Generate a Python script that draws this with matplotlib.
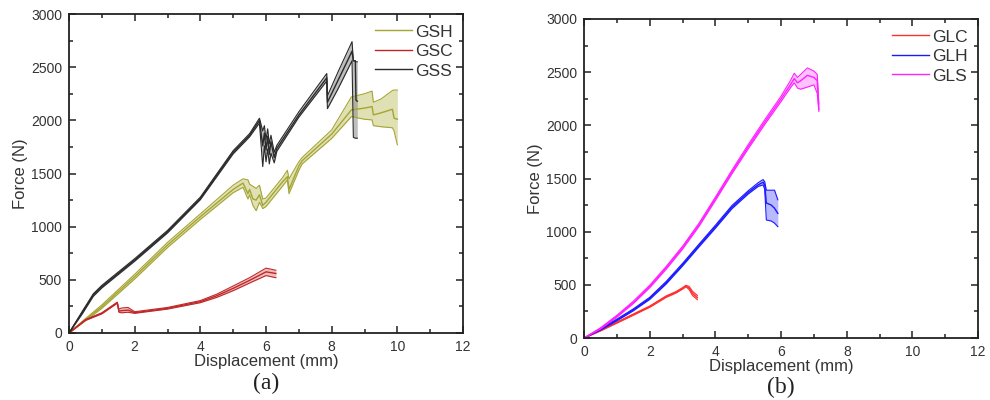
import matplotlib
matplotlib.use('Agg')
import matplotlib.pyplot as plt
from matplotlib.ticker import MultipleLocator

plt.rcParams['font.family'] = ['Liberation Sans', 'DejaVu Sans']

# ---- panel (a) ----
gsh_x  = [0, 0.5, 1, 2, 3, 4, 5, 5.3, 5.45, 5.5, 5.6, 5.7, 5.8, 5.9, 6.0, 6.5, 6.65, 6.7, 7.0, 7.1, 8.0, 8.6, 9.0, 9.23, 9.27, 9.5, 9.85, 9.9, 10.0]
gsh_m  = [0, 125, 248, 530, 828, 1094, 1350, 1410, 1310, 1350, 1260, 1250, 1300, 1200, 1230, 1420, 1470, 1350, 1570, 1620, 1870, 2098, 2115, 2129, 2051, 2070, 2104, 2020, 2010]
gsh_lo = [0, 115, 232, 508, 804, 1068, 1320, 1370, 1260, 1300, 1200, 1150, 1230, 1170, 1190, 1380, 1440, 1310, 1530, 1590, 1830, 2035, 2010, 2004, 1950, 1940, 1930, 1900, 1770]
gsh_hi = [0, 135, 264, 552, 852, 1120, 1390, 1450, 1440, 1400, 1380, 1360, 1390, 1260, 1270, 1460, 1530, 1450, 1610, 1650, 1910, 2220, 2250, 2275, 2170, 2200, 2280, 2285, 2285]

gsc_x  = [0, 0.5, 1, 1.47, 1.52, 1.6, 1.8, 2.0, 3.0, 4.0, 4.5, 5.0, 5.5, 6.0, 6.3]
gsc_m  = [0, 122, 185, 285, 205, 210, 215, 191, 232, 295, 350, 420, 495, 575, 560]
gsc_lo = [0, 118, 180, 280, 195, 190, 195, 185, 225, 285, 335, 398, 470, 540, 520]
gsc_hi = [0, 126, 190, 290, 225, 235, 240, 200, 240, 305, 365, 442, 520, 610, 590]

gss_x  = [0, 0.4, 0.74, 1, 2, 3, 4, 5, 5.5, 5.8, 5.9, 5.95, 6.0, 6.05, 6.1, 6.15, 6.25, 6.33, 7.0, 7.85, 7.87, 8.2, 8.62, 8.66, 8.72, 8.74, 8.78]
gss_m  = [0, 190, 357, 436, 687, 953, 1266, 1700, 1860, 2000, 1760, 1880, 1720, 1850, 1680, 1800, 1650, 1737, 2050, 2400, 2170, 2380, 2650, 2560, 2560, 2190, 2180]
gss_lo = [0, 178, 345, 424, 675, 941, 1254, 1685, 1845, 1975, 1565, 1760, 1610, 1730, 1590, 1690, 1600, 1710, 2030, 2370, 2110, 2300, 2560, 1840, 1832, 1832, 1832]
gss_hi = [0, 202, 369, 448, 699, 965, 1278, 1715, 1875, 2020, 1900, 1950, 1820, 1920, 1780, 1860, 1700, 1765, 2080, 2440, 2230, 2460, 2740, 2560, 2560, 2550, 2550]

# ---- panel (b) ----
glc_x  = [0, 0.5, 1, 1.5, 2, 2.5, 2.8, 3.0, 3.1, 3.2, 3.3, 3.45]
glc_m  = [0, 70, 145, 220, 295, 389, 430, 467, 489, 470, 420, 380]
glc_lo = [0, 66, 140, 214, 289, 382, 423, 460, 482, 455, 400, 360]
glc_hi = [0, 74, 150, 226, 301, 396, 437, 474, 496, 485, 440, 400]

glh_x  = [0, 0.5, 1, 1.5, 2, 2.5, 3, 3.5, 4, 4.5, 5, 5.3, 5.45, 5.5, 5.55, 5.7, 5.8, 5.9]
glh_m  = [0, 80, 170, 265, 373, 520, 690, 870, 1047, 1230, 1370, 1440, 1465, 1440, 1270, 1250, 1220, 1172]
glh_lo = [0, 74, 162, 256, 363, 508, 678, 857, 1033, 1215, 1355, 1425, 1440, 1400, 1110, 1100, 1080, 1047]
glh_hi = [0, 86, 178, 274, 383, 532, 702, 883, 1061, 1245, 1385, 1460, 1490, 1470, 1390, 1390, 1390, 1300]

gls_x  = [0, 0.5, 1, 1.5, 2, 2.5, 3, 3.5, 4, 4.5, 5, 5.5, 6, 6.3, 6.4, 6.5, 6.6, 6.8, 7.0, 7.1, 7.15]
gls_m  = [0, 90, 205, 335, 485, 660, 850, 1065, 1310, 1560, 1800, 2030, 2250, 2390, 2440, 2400, 2420, 2470, 2450, 2420, 2150]
gls_lo = [0, 84, 196, 324, 473, 647, 836, 1050, 1294, 1543, 1780, 2008, 2225, 2360, 2400, 2350, 2340, 2360, 2380, 2300, 2130]
gls_hi = [0, 96, 214, 346, 497, 673, 864, 1080, 1326, 1577, 1820, 2052, 2275, 2430, 2490, 2450, 2480, 2540, 2510, 2480, 2200]

fig = plt.figure(figsize=(9.9, 4.0), dpi=100)
axA = fig.add_axes([0.0697, 0.1675, 0.398, 0.7975])
axB = fig.add_axes([0.590, 0.155, 0.398, 0.7975])


def band(ax, x, m, lo, hi, line, fill, label):
    ax.fill_between(x, lo, hi, color=fill, alpha=0.55, lw=0)
    ax.plot(x, lo, color=line, lw=0.8)
    ax.plot(x, hi, color=line, lw=0.8)
    ax.plot(x, m, color=line, lw=1.0, label=label)


band(axA, gsh_x, gsh_m, gsh_lo, gsh_hi, '#a5a534', '#c8c878', 'GSH')
band(axA, gsc_x, gsc_m, gsc_lo, gsc_hi, '#c02828', '#e08a8a', 'GSC')
band(axA, gss_x, gss_m, gss_lo, gss_hi, '#2a2a2a', '#8a8a8a', 'GSS')

band(axB, glc_x, glc_m, glc_lo, glc_hi, '#ff3030', '#ff9090', 'GLC')
band(axB, glh_x, glh_m, glh_lo, glh_hi, '#1a1aff', '#8080ff', 'GLH')
band(axB, gls_x, gls_m, gls_lo, gls_hi, '#ff20ff', '#ff90ff', 'GLS')

for ax, tag, ty in [(axA, '(a)', 0.042), (axB, '(b)', 0.032)]:
    ax.set_xlim(0, 12)
    ax.set_ylim(0, 3000)
    ax.xaxis.set_major_locator(MultipleLocator(2))
    ax.xaxis.set_minor_locator(MultipleLocator(1))
    ax.yaxis.set_major_locator(MultipleLocator(500))
    ax.yaxis.set_minor_locator(MultipleLocator(250))
    ax.tick_params(which='both', direction='in', top=True, right=True,
                   labelsize=10, colors='#333333', width=1.2)
    ax.tick_params(which='major', length=5, pad=5)
    ax.tick_params(which='minor', length=3)
    for s in ax.spines.values():
        s.set_linewidth(1.3)
        s.set_color('#222222')
    ax.set_xlabel('Displacement (mm)', fontsize=12, color='#333333', labelpad=0)
    ax.set_ylabel('Force (N)', fontsize=12, color='#333333', labelpad=2)
    leg = ax.legend(loc='upper right', frameon=False, fontsize=12.5,
                    handlelength=2.1, handletextpad=0.2, labelspacing=0.25,
                    borderaxespad=0.2)
    for t in leg.get_texts():
        t.set_color('#333333')
    bb = ax.get_position()
    fig.text(bb.x0 + bb.width / 2, ty, tag, ha='center', va='center',
             fontsize=17, family=['Liberation Serif', 'DejaVu Serif'], color='#222222')

fig.savefig('out.png', dpi=100)
